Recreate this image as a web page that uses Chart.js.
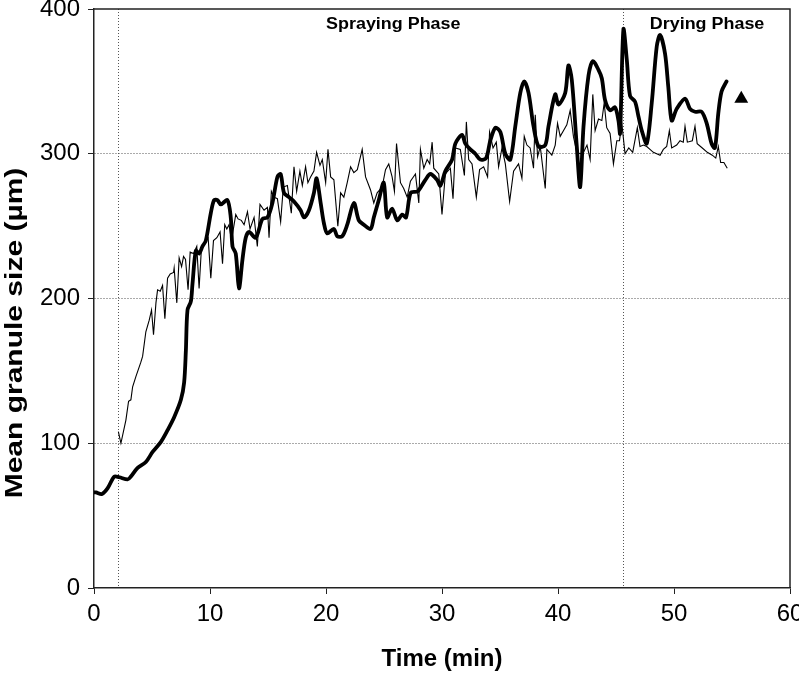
<!DOCTYPE html>
<html>
<head>
<meta charset="utf-8">
<script src="https://cdn.jsdelivr.net/npm/chart.js@4/dist/chart.umd.min.js"></script>
<style>
  html, body { margin: 0; padding: 0; background: #fff; }
  #wrap { width: 799px; height: 674px; }
</style>
</head>
<body>
<div id="wrap"><canvas id="c" width="799" height="674"></canvas></div>
<script>
// ---- data ----
const thickTime = [
  0,0.17,0.69,1.18,1.75,2.18,2.9,3.18,3.76,4.47,
  5.05,5.77,6.34,6.91,7.49,7.77,7.92,8.06,8.35,8.49,
  8.78,9.06,9.35,9.64,10.07,10.35,10.64,10.93,11.5,11.79,
  11.94,12.22,12.5,12.8,13.08,13.37,13.94,14.52,14.95,15.38,
  15.81,16.09,16.38,16.81,17.24,17.81,18.1,18.53,18.96,19.19,
  19.54,19.82,20.1,20.68,20.97,21.4,21.83,22.4,22.83,23.26,
  23.84,24.12,24.55,24.98,25.27,25.7,26.14,26.57,26.9,27.3,
  27.9,28.57,29.0,29.57,29.86,30.29,30.87,31.15,31.73,32.01,
  32.44,32.87,33.3,33.8,34.16,34.6,35.03,35.46,35.89,36.32,
  36.75,37.09,37.46,37.89,38.32,38.9,39.18,39.76,40.04,40.62,
  40.9,41.19,41.62,41.91,42.2,42.63,43.0,43.49,43.78,44.06,
  44.49,44.92,45.21,45.35,45.64,45.93,46.21,46.64,46.93,47.22,
  47.65,48.08,48.51,48.8,49.23,49.51,49.8,50.23,50.95,51.38,
  51.81,52.38,52.82,53.24,53.53,53.82,54.1,54.53
];
const thickSize = [
  66,66,65,69,77,76.5,75,77,83,87,
  94,101,109,118,130,142,164,192,198,210,
  233,231,236,240,259,268,268,265,268,256,
  236,231,207,227,242,246,242,255,256,266,
  284,286,273,270,267,261,256,261,273,283,
  266,252,245,248,243,243,251,266,254,251,
  248,256,268,280,256,262,254,258,256,273,
  274,282,286,282,278,288,296,307,313,307,
  303,300,296,297,309,318,315,300,296,319,
  342,350,342,319,305,306,319,341,334,342,
  361,351,305,277,319,354,364,358,352,337,
  330,332,323,314,386,365,340,336,326,316,
  307,335,374,382,369,346,323,331,338,331,
  329,329,321,307,304,328,343,350
];
const thinTime = [
  2.1,2.32,2.75,2.98,3.18,3.33,3.61,4.04,4.19,4.47,
  4.76,4.96,5.13,5.34,5.48,5.71,5.91,6.11,6.34,6.57,
  6.86,6.91,7.14,7.34,7.55,7.72,7.89,8.11,8.29,8.58,
  8.86,9.06,9.27,9.55,9.84,10.07,10.3,10.59,10.87,11.08,
  11.27,11.45,11.64,11.85,12.22,12.42,12.7,12.94,13.23,13.45,
  13.8,14.08,14.31,14.66,14.95,15.09,15.29,15.52,15.81,16.09,
  16.32,16.67,17.01,17.24,17.47,17.75,17.96,18.24,18.44,18.67,
  18.96,19.19,19.48,19.68,19.97,20.17,20.4,20.68,21.02,21.26,
  21.54,21.83,22.12,22.4,22.7,23.12,23.41,23.84,24.12,24.41,
  24.84,25.13,25.41,25.7,25.9,26.08,26.42,26.7,27.0,27.28,
  27.71,28.0,28.14,28.43,28.72,28.94,29.15,29.29,29.72,30.0,
  30.29,30.72,30.95,31.15,31.58,31.93,32.1,32.3,32.59,32.96,
  33.24,33.59,33.93,34.1,34.4,34.68,34.88,35.17,35.46,35.83,
  36.17,36.6,36.89,37.09,37.32,37.6,37.89,38.04,38.24,38.47,
  38.9,39.04,39.47,39.76,39.96,40.19,40.48,40.76,41.05,41.33,
  41.62,41.91,42.2,42.5,42.77,43.0,43.2,43.49,43.78,43.98,
  44.2,44.49,44.78,45.07,45.3,45.5,45.78,46.1,46.44,46.84,
  47.07,47.36,47.65,47.93,48.22,48.51,48.8,49.08,49.37,49.6,
  49.8,50.23,50.52,50.8,50.95,51.15,51.58,51.81,52.0,52.44,
  52.87,53.3,53.6,53.82,54.02,54.3,54.59
];
const thinSize = [
  108,100,116,129,130,139,146,156,160,177,
  185,192,175,197,206,205,209,186,214,217,
  218,221,197,228,222,229,227,206,232,231,
  236,207,236,239,242,214,240,242,246,224,
  251,248,251,240,258,255,254,251,260,248,
  256,236,265,261,263,242,274,270,269,253,
  277,278,259,291,274,288,278,291,280,284,
  288,301,292,296,280,303,284,282,250,273,
  270,280,291,287,289,303,284,275,266,273,
  277,289,293,284,274,307,280,276,270,281,
  286,266,303,290,296,293,308,290,286,258,
  286,290,269,304,303,285,322,296,293,270,
  289,291,284,315,304,308,291,304,293,267,
  288,293,283,312,306,304,290,327,298,305,
  276,303,299,306,321,312,316,320,330,312,
  301,300,301,306,296,341,316,324,323,335,
  318,314,293,309,309,321,300,304,301,318,
  305,306,305,303,301,300,299,303,305,316,
  304,306,309,308,319,308,309,319,307,304,
  301,299,297,305,294,294,290
];
const markerTime = [55.8];
const markerSize = [338];
const phaseBoundaries = [2.05, 45.6];
const phaseLabels = ['Spraying Phase', 'Drying Phase'];
const phaseLabelTime = [25.8, 52.85];
const xTitle = 'Time (min)';
const yTitle = 'Mean granule size (µm)';

const toPts = (xs, ys) => xs.map((t, i) => ({ x: t, y: ys[i] }));

const FONT = '"Liberation Sans", Arial, sans-serif';

const overlay = {
  id: 'overlay',
  beforeDatasetsDraw(chart) {
    const { ctx, chartArea: a, scales: { x } } = chart;
    ctx.save();
    ctx.strokeStyle = '#555';
    ctx.lineWidth = 1;
    ctx.setLineDash([1, 2]);
    phaseBoundaries.forEach(b => {
      const px = Math.round(x.getPixelForValue(b)) + 0.5;
      ctx.beginPath();
      ctx.moveTo(px, a.top);
      ctx.lineTo(px, a.bottom);
      ctx.stroke();
    });
    ctx.restore();
  },
  afterDraw(chart) {
    const { ctx, chartArea: a, scales: { x } } = chart;
    ctx.save();
    // frame (top + right)
    ctx.strokeStyle = '#222';
    ctx.lineWidth = 1.5;
    ctx.beginPath();
    ctx.moveTo(a.left, a.top);
    ctx.lineTo(a.right, a.top);
    ctx.lineTo(a.right, a.bottom);
    ctx.stroke();
    // phase labels
    ctx.fillStyle = '#000';
    ctx.font = 'bold 16px ' + FONT;
    ctx.textAlign = 'center';
    ctx.textBaseline = 'alphabetic';
    phaseLabels.forEach((txt, i) => {
      ctx.save();
      ctx.translate(x.getPixelForValue(phaseLabelTime[i]), a.top + 20);
      ctx.scale(1.12, 1);
      ctx.fillText(txt, 0, 0);
      ctx.restore();
    });
    // y axis title
    ctx.save();
    ctx.translate(15, 333);
    ctx.rotate(-Math.PI / 2);
    ctx.scale(1.25, 1);
    ctx.font = 'bold 24px ' + FONT;
    ctx.textAlign = 'center';
    ctx.textBaseline = 'middle';
    ctx.fillText(yTitle, 0, 0);
    ctx.restore();
    ctx.restore();
  }
};

new Chart(document.getElementById('c'), {
  type: 'line',
  data: {
    datasets: [
      {
        label: 'thin',
        data: toPts(thinTime, thinSize),
        borderColor: '#000',
        borderWidth: 1.1,
        pointRadius: 0,
        tension: 0,
        fill: false
      },
      {
        label: 'thick',
        data: toPts(thickTime, thickSize),
        borderColor: '#000',
        borderWidth: 3.8,
        pointRadius: 0,
        tension: 0.3,
        borderJoinStyle: 'round',
        borderCapStyle: 'round',
        fill: false
      },
      {
        label: 'marker',
        data: toPts(markerTime, markerSize),
        showLine: false,
        pointStyle: 'triangle',
        pointRadius: 8,
        pointBackgroundColor: '#000',
        pointBorderColor: '#000',
        borderWidth: 0
      }
    ]
  },
  options: {
    responsive: false,
    animation: false,
    events: [],
    layout: { padding: { top: 9, right: 9, left: 0, bottom: 0 } },
    plugins: { legend: { display: false }, tooltip: { enabled: false } },
    scales: {
      x: {
        type: 'linear',
        min: 0, max: 60,
        ticks: { stepSize: 10, color: '#000', font: { family: FONT, size: 24 }, padding: 6, maxRotation: 0 },
        grid: { color: 'rgba(0,0,0,0)', tickColor: '#222', tickLength: 6, drawTicks: true },
        border: { display: true, color: '#222', width: 1.5 },
        title: { display: true, text: xTitle, color: '#000', font: { family: FONT, size: 24, weight: 'bold' }, padding: { top: 0, bottom: 0 } },
        afterFit(s) { s.height = 86; s.paddingLeft = 0; s.paddingRight = 0; }
      },
      y: {
        min: 0, max: 400,
        ticks: { stepSize: 100, color: '#000', font: { family: FONT, size: 24 }, padding: 8 },
        grid: {
          color: ctx => (ctx.tick && (ctx.tick.value === 0 || ctx.tick.value === 400)) ? 'rgba(0,0,0,0)' : '#555',
          tickColor: '#222', tickLength: 6, lineWidth: 1
        },
        border: { display: true, color: '#222', width: 1.5, dash: [1, 2] },
        afterFit(s) { s.width = 94; s.paddingTop = 0; s.paddingBottom = 0; }
      }
    }
  },
  plugins: [overlay]
});
</script>
</body>
</html>
